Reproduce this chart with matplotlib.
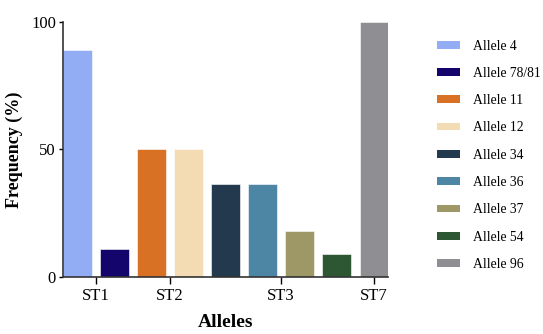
import numpy as np
import matplotlib.pyplot as plt
from matplotlib.patches import Patch

plt.rcParams['font.family'] = ['Liberation Serif', 'DejaVu Serif']

# data
alleles = ['Allele 4', 'Allele 78/81', 'Allele 11', 'Allele 12', 'Allele 34',
           'Allele 36', 'Allele 37', 'Allele 54', 'Allele 96']
freq = [88.9, 11.1, 50.0, 50.0, 36.4, 36.4, 18.2, 9.1, 100.0]
colors = ['#93adf5', '#13056b', '#d97125', '#f3dcb4', '#233a4e',
          '#4d86a4', '#9d9866', '#2d5733', '#8f8e93']
st_labels = ['ST1', 'ST2', 'ST3', 'ST7']
st_pos = [0.5, 2.5, 5.5, 8]

fig = plt.figure(figsize=(5.43, 3.34), dpi=100)
ax = fig.add_axes([0.116, 0.171, 0.599, 0.763])

x = np.arange(len(freq))
ax.bar(x, freq, width=0.77, color=colors, edgecolor='white', linewidth=0.4)

ax.set_xlim(-0.39, 8.39)
ax.set_ylim(0, 100)
ax.set_yticks([0, 50, 100])
ax.set_xticks(st_pos)
ax.set_xticklabels(st_labels)
ax.tick_params(axis='x', length=5, width=1, labelsize=12, pad=3)
ax.tick_params(axis='y', length=3, width=1, labelsize=12, pad=2)
for s in ['top', 'right']:
    ax.spines[s].set_visible(False)
for s in ['left', 'bottom']:
    ax.spines[s].set_linewidth(1.2)
    ax.spines[s].set_color('#333333')

ax.set_ylabel('Frequency (%)', fontsize=13, fontweight='bold', labelpad=6)
ax.set_xlabel('Alleles', fontsize=14, fontweight='bold', labelpad=7)

handles = [Patch(facecolor=c, edgecolor='none') for c in colors]
fig.legend(handles, alleles, loc='upper left', bbox_to_anchor=(0.795, 0.898),
           frameon=False, fontsize=9.8, handlelength=1.7, handleheight=0.5,
           labelspacing=1.05, handletextpad=0.95, borderaxespad=0)

fig.savefig('out.png', dpi=100)
